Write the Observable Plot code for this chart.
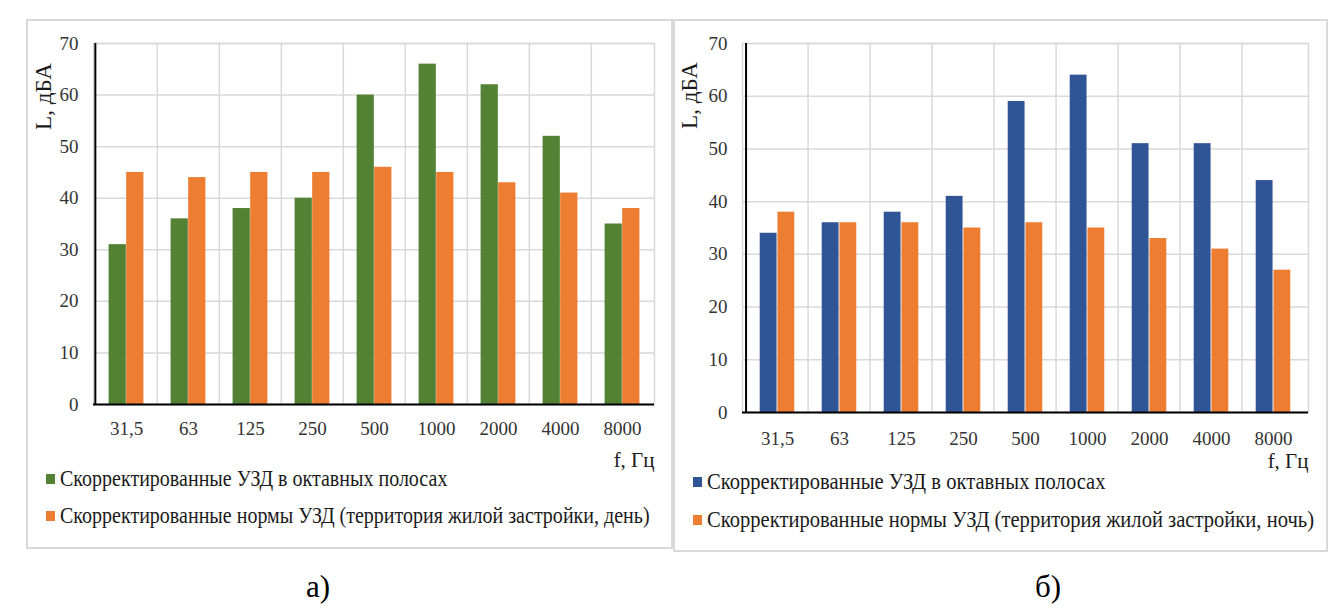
<!DOCTYPE html>
<html>
<head>
<meta charset="utf-8">
<script src="https://cdn.jsdelivr.net/npm/d3@7"></script>
<script src="https://cdn.jsdelivr.net/npm/@observablehq/plot@0.6"></script>
<style>
  html, body { margin: 0; padding: 0; background: #fff; }
  #page { position: relative; width: 1344px; height: 608px; overflow: hidden; font-family: "Liberation Serif", serif; }
  .panel { position: absolute; border: 2px solid #d9d9d9; box-sizing: border-box; background: #fff; }
  .plot { position: absolute; }
  .legend-item { position: absolute; display: flex; align-items: center; white-space: nowrap; font-family: "Liberation Serif", serif; font-size: 23px; color: #1a1a1a; }
  .legend-item .sw { width: 9px; height: 10px; margin-right: 5px; flex: none; }
  .legend-item .lt { display: inline-block; transform-origin: left center; }
  .caption { position: absolute; font-family: "Liberation Serif", serif; font-size: 31px; color: #000; transform: translate(-50%, -50%); }
</style>
</head>
<body>
<div id="page"></div>
<script>
// ---- data ----
const categories = ["31,5", "63", "125", "250", "500", "1000", "2000", "4000", "8000"];
const measuredDay = [31, 36, 38, 40, 60, 66, 62, 52, 35];
const normDay = [45, 44, 45, 45, 46, 45, 43, 41, 38];
const measuredNight = [34, 36, 38, 41, 59, 64, 51, 51, 44];
const normNight = [38, 36, 36, 35, 36, 35, 33, 31, 27];
const yTicks = [0, 10, 20, 30, 40, 50, 60, 70];
const yLabel = "L, дБА";
const xLabel = "f, Гц";
const legendMeasured = "Скорректированные УЗД в октавных полосах";
const legendNormDay = "Скорректированные нормы УЗД (территория жилой застройки, день)";
const legendNormNight = "Скорректированные нормы УЗД (территория жилой застройки, ночь)";
const captions = ["а)", "б)"];

const GREEN = "#548235", BLUE = "#2f5597", ORANGE = "#ed7d31", GRID = "#d9d9d9";

const page = document.getElementById("page");

function chart(cfg) {
  const rows = categories.map((c, i) => ({cat: c, a: cfg.measured[i], b: cfg.norm[i]}));
  const bw = (cfg.width - cfg.ml - cfg.mr) / categories.length;
  const edge = bw * 0.218, mid = bw * 0.5;
  return Plot.plot({
    width: cfg.width,
    height: cfg.height,
    marginLeft: cfg.ml,
    marginRight: cfg.mr,
    marginTop: cfg.mt,
    marginBottom: cfg.mb,
    style: {fontFamily: "Liberation Serif", fontSize: "19px", color: "#333", background: "transparent", overflow: "visible"},
    x: {type: "band", domain: categories, padding: 0, label: null, tickSize: 0, tickPadding: cfg.xPad},
    y: {domain: [0, 70], ticks: yTicks, label: null, tickSize: 0, tickPadding: cfg.yPad},
    marks: [
      Plot.ruleY(yTicks, {stroke: GRID, strokeWidth: 1.5}),
      Plot.ruleX(categories.slice(1), {dx: -bw / 2, stroke: GRID, strokeWidth: 1.5}),
      Plot.frame({stroke: GRID, strokeWidth: 1.5}),
      Plot.barY(rows, {x: "cat", y: "a", fill: cfg.colorA, insetLeft: edge, insetRight: mid}),
      Plot.barY(rows, {x: "cat", y: "b", fill: ORANGE, insetLeft: mid, insetRight: edge}),
      Plot.ruleY([0], {stroke: "#000", strokeWidth: 2}),
      Plot.ruleX([categories[0]], {dx: -bw / 2, stroke: "#000", strokeWidth: 2}),
      Plot.text([xLabel], {frameAnchor: "bottom-right", textAnchor: "end", lineAnchor: "middle", dy: cfg.fDy, fontSize: 21, fill: "#1a1a1a"}),
      Plot.text([yLabel], {frameAnchor: "top-left", textAnchor: "middle", lineAnchor: "middle", rotate: -90, dx: cfg.lDx, dy: cfg.lDy, fontSize: 23, fill: "#1a1a1a"})
    ]
  });
}

function panel(cfg) {
  const box = document.createElement("div");
  box.className = "panel";
  Object.assign(box.style, {left: cfg.box[0] + "px", top: cfg.box[1] + "px", width: cfg.box[2] + "px", height: cfg.box[3] + "px"});
  page.appendChild(box);

  const svg = chart(cfg);
  const wrap = document.createElement("div");
  wrap.className = "plot";
  Object.assign(wrap.style, {left: cfg.sx + "px", top: cfg.sy + "px"});
  wrap.appendChild(svg);
  page.appendChild(wrap);

  cfg.legend.forEach((item, i) => {
    const el = document.createElement("div");
    el.className = "legend-item";
    Object.assign(el.style, {left: cfg.lx + "px", top: (cfg.ly[i] - 14) + "px", height: "28px"});
    const sw = document.createElement("span");
    sw.className = "sw";
    sw.style.background = item.color;
    const t = document.createElement("span");
    t.className = "lt";
    t.style.transform = `scaleX(${cfg.lscale})`;
    t.textContent = item.label;
    el.appendChild(sw);
    el.appendChild(t);
    page.appendChild(el);
  });

  const cap = document.createElement("div");
  cap.className = "caption";
  cap.textContent = cfg.caption;
  Object.assign(cap.style, {left: cfg.cap[0] + "px", top: cfg.cap[1] + "px"});
  page.appendChild(cap);
}

panel({
  measured: measuredDay, norm: normDay, colorA: GREEN,
  box: [26, 19, 647, 530],
  sx: 27, sy: 19, width: 645, height: 451, ml: 66, mr: 18, mt: 24, mb: 66,
  xPad: 17, yPad: 15, fDy: 56, lDx: -50, lDy: 53,
  legend: [{label: legendMeasured, color: GREEN}, {label: legendNormDay, color: ORANGE}],
  lx: 46, ly: [479, 516], lscale: 0.87,
  caption: captions[0], cap: [318, 587]
});

panel({
  measured: measuredNight, norm: normNight, colorA: BLUE,
  box: [673, 19, 655, 533],
  sx: 673, sy: 19, width: 654, height: 451, ml: 69, mr: 19, mt: 24, mb: 58,
  xPad: 19, yPad: 15, fDy: 49, lDx: -53, lDy: 52,
  legend: [{label: legendMeasured, color: BLUE}, {label: legendNormNight, color: ORANGE}],
  lx: 693, ly: [482, 520], lscale: 0.895,
  caption: captions[1], cap: [1048, 587]
});
</script>
</body>
</html>
